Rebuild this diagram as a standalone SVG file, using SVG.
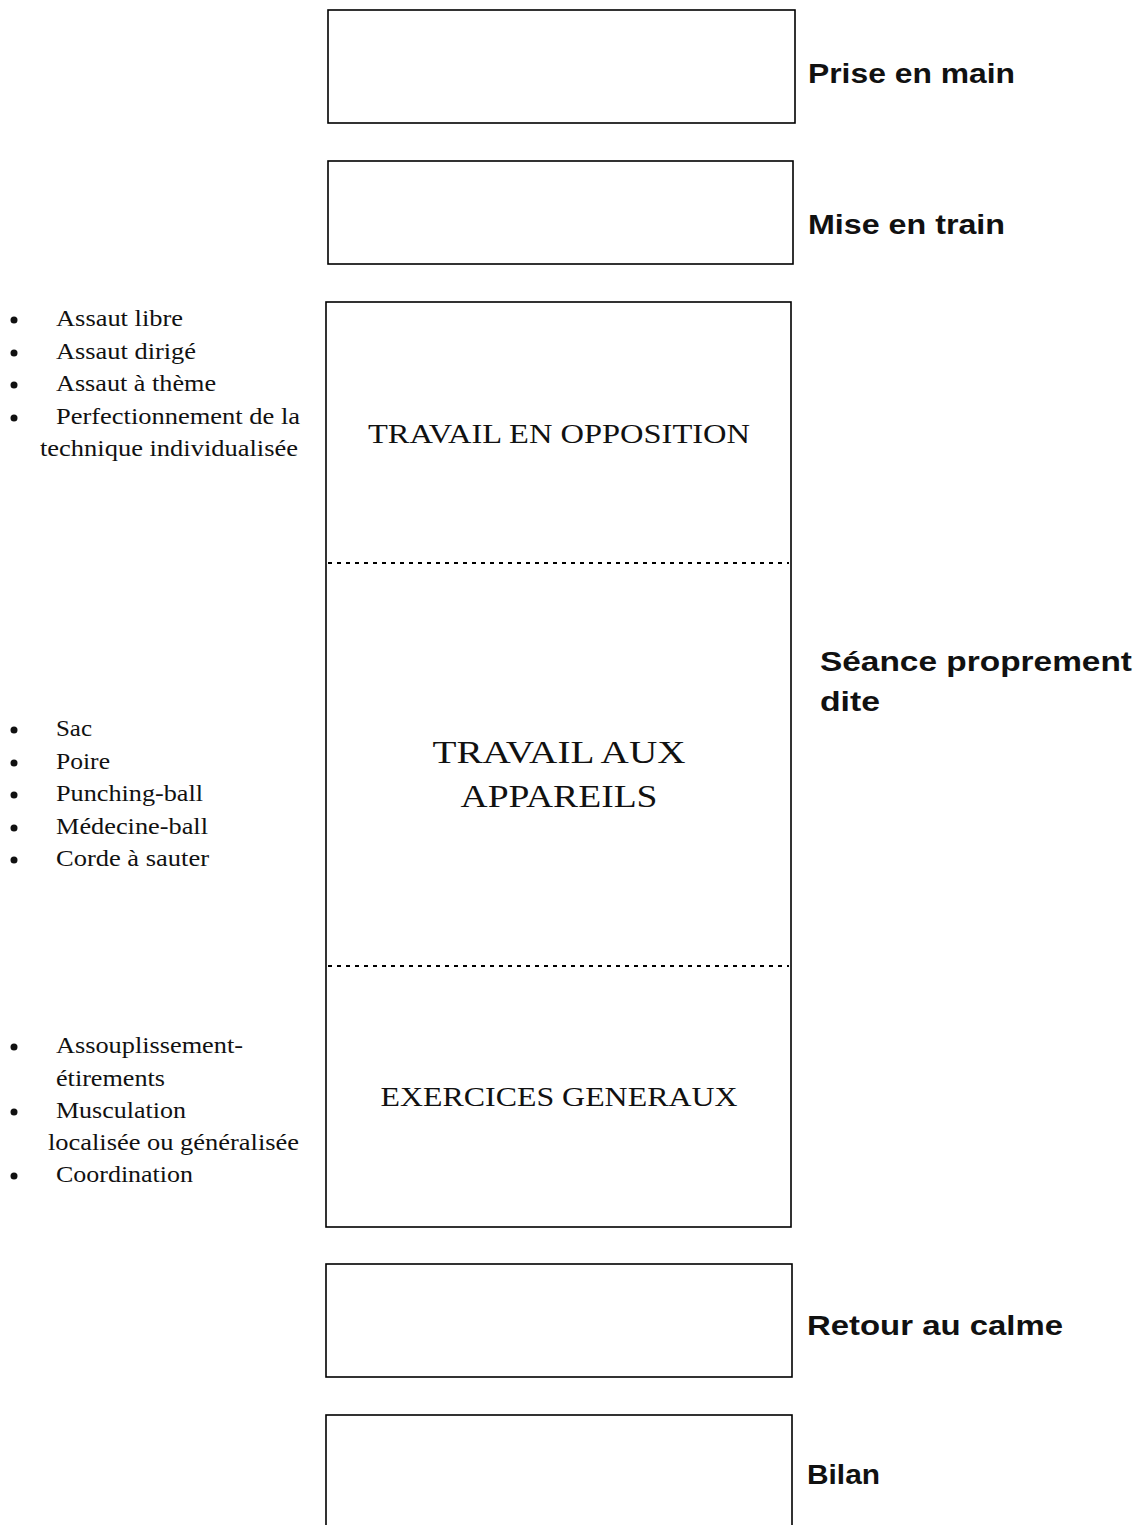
<svg xmlns="http://www.w3.org/2000/svg" width="1142" height="1525" viewBox="0 0 1142 1525">
<style>
.box{fill:#fff;stroke:#000;stroke-width:1.6}
.dot{stroke:#000;stroke-width:2;stroke-dasharray:4 5}
.lab{font-family:"Liberation Sans","DejaVu Sans",sans-serif;font-weight:bold;font-size:28px;fill:#111}
.mid{font-family:"Liberation Serif",serif;fill:#111;text-anchor:middle}
.li{font-family:"Liberation Serif",serif;font-size:24px;fill:#111}
</style>
<rect width="1142" height="1525" fill="#fff"/>
<g id="prise">
<rect class="box" x="328" y="10" width="467" height="113"/>
<text class="lab" x="808" y="83" textLength="207" lengthAdjust="spacingAndGlyphs">Prise en main</text>
</g>
<g id="mise">
<rect class="box" x="328" y="161" width="465" height="103"/>
<text class="lab" x="808" y="234" textLength="197" lengthAdjust="spacingAndGlyphs">Mise en train</text>
</g>
<g id="seance">
<rect class="box" x="326" y="302" width="465" height="925"/>
<line class="dot" x1="328" y1="563" x2="789" y2="563"/>
<line class="dot" x1="328" y1="966" x2="789" y2="966"/>
<text class="lab" x="820" y="671" textLength="312" lengthAdjust="spacingAndGlyphs">Séance proprement</text>
<text class="lab" x="820" y="711" textLength="60" lengthAdjust="spacingAndGlyphs">dite</text>
</g>
<g id="opposition">
<text class="mid" x="559" y="443" font-size="27" textLength="382" lengthAdjust="spacingAndGlyphs">TRAVAIL EN OPPOSITION</text>
<g class="li">
<circle cx="14" cy="320" r="3.5"/><text x="56" y="326" textLength="127" lengthAdjust="spacingAndGlyphs">Assaut libre</text>
<circle cx="14" cy="353" r="3.5"/><text x="56" y="359" textLength="140" lengthAdjust="spacingAndGlyphs">Assaut dirigé</text>
<circle cx="14" cy="385" r="3.5"/><text x="56" y="391" textLength="160" lengthAdjust="spacingAndGlyphs">Assaut à thème</text>
<circle cx="14" cy="418" r="3.5"/><text x="56" y="424" textLength="244" lengthAdjust="spacingAndGlyphs">Perfectionnement de la</text>
<text x="40" y="456" textLength="258" lengthAdjust="spacingAndGlyphs">technique individualisée</text>
</g>
</g>
<g id="appareils">
<text class="mid" x="559" y="763" font-size="32" textLength="253" lengthAdjust="spacingAndGlyphs">TRAVAIL AUX</text>
<text class="mid" x="559" y="807" font-size="32" textLength="197" lengthAdjust="spacingAndGlyphs">APPAREILS</text>
<g class="li">
<circle cx="14" cy="730" r="3.5"/><text x="56" y="736" textLength="36" lengthAdjust="spacingAndGlyphs">Sac</text>
<circle cx="14" cy="763" r="3.5"/><text x="56" y="769" textLength="54" lengthAdjust="spacingAndGlyphs">Poire</text>
<circle cx="14" cy="795" r="3.5"/><text x="56" y="801" textLength="147" lengthAdjust="spacingAndGlyphs">Punching-ball</text>
<circle cx="14" cy="828" r="3.5"/><text x="56" y="834" textLength="152" lengthAdjust="spacingAndGlyphs">Médecine-ball</text>
<circle cx="14" cy="860" r="3.5"/><text x="56" y="866" textLength="153" lengthAdjust="spacingAndGlyphs">Corde à sauter</text>
</g>
</g>
<g id="exercices">
<text class="mid" x="559" y="1106" font-size="27" textLength="357" lengthAdjust="spacingAndGlyphs">EXERCICES GENERAUX</text>
<g class="li">
<circle cx="14" cy="1047" r="3.5"/><text x="56" y="1053" textLength="187" lengthAdjust="spacingAndGlyphs">Assouplissement-</text>
<text x="56" y="1086" textLength="109" lengthAdjust="spacingAndGlyphs">étirements</text>
<circle cx="14" cy="1112" r="3.5"/><text x="56" y="1118" textLength="130" lengthAdjust="spacingAndGlyphs">Musculation</text>
<text x="48" y="1150" textLength="251" lengthAdjust="spacingAndGlyphs">localisée ou généralisée</text>
<circle cx="14" cy="1176" r="3.5"/><text x="56" y="1182" textLength="137" lengthAdjust="spacingAndGlyphs">Coordination</text>
</g>
</g>
<g id="retour">
<rect class="box" x="326" y="1264" width="466" height="113"/>
<text class="lab" x="807" y="1335" textLength="256" lengthAdjust="spacingAndGlyphs">Retour au calme</text>
</g>
<g id="bilan">
<rect class="box" x="326" y="1415" width="466" height="130"/>
<text class="lab" x="807" y="1484" textLength="73" lengthAdjust="spacingAndGlyphs">Bilan</text>
</g>
<g id="connectors"/>
</svg>
